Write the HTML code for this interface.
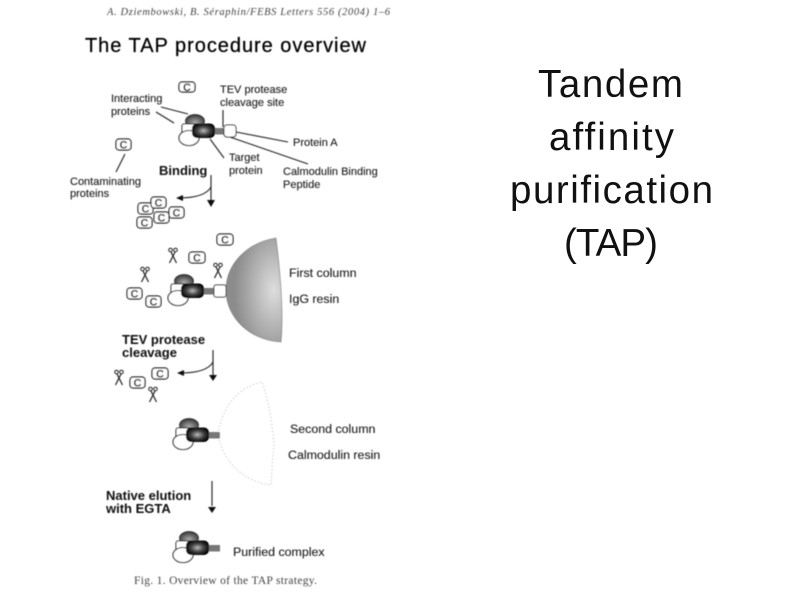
<!DOCTYPE html>
<html>
<head>
<meta charset="utf-8">
<style>
html,body{margin:0;padding:0;background:#fff;width:800px;height:600px;overflow:hidden}
svg{display:block}
.s{font-family:"Liberation Sans",sans-serif;font-size:11px;fill:#1c1c1c;stroke:#1c1c1c;stroke-width:.12}
.m{font-family:"Liberation Sans",sans-serif;font-size:12.4px;fill:#1c1c1c;stroke:#1c1c1c;stroke-width:.12}
.b{font-family:"Liberation Sans",sans-serif;font-size:13px;font-weight:bold;fill:#111}
.c{font-family:"Liberation Sans",sans-serif;font-size:11px;font-weight:bold;fill:#111;text-anchor:middle}
.r{font-family:"Liberation Sans",sans-serif;font-size:38.5px;fill:#111}
.l{stroke:#222;stroke-width:1.1;fill:none}
</style>
</head>
<body>
<svg width="800" height="600" viewBox="0 0 800 600" xmlns="http://www.w3.org/2000/svg">
<defs>
<radialGradient id="dk" cx="50%" cy="50%" r="55%">
<stop offset="0" stop-color="#bbb"/><stop offset=".5" stop-color="#444"/><stop offset="1" stop-color="#000"/>
</radialGradient>
<radialGradient id="top" cx="50%" cy="60%" r="60%">
<stop offset="0" stop-color="#aaa"/><stop offset="1" stop-color="#333"/>
</radialGradient>
<radialGradient id="hemi" cx="85%" cy="50%" r="70%">
<stop offset="0" stop-color="#dedede"/><stop offset=".55" stop-color="#b0b0b0"/><stop offset="1" stop-color="#8c8c8c"/>
</radialGradient>
<filter id="bl" x="-5%" y="-5%" width="110%" height="110%"><feGaussianBlur stdDeviation="0.45"/></filter>
<g id="cx">
<ellipse cx="-8" cy="-10" rx="9.500" ry="6.500" fill="url(#top)" stroke="#222" stroke-width=".8"/>
<rect x="-21" y="-7" width="14" height="13" rx="2" fill="#fff" stroke="#222" stroke-width="1.100"/>
<ellipse cx="-14" cy="7" rx="10" ry="7.500" fill="#fff" stroke="#111" stroke-width="1.100"/>
<rect x="-11" y="-7.500" width="23" height="14.500" rx="5" fill="url(#dk)"/>
<rect x="12" y="-3" width="11" height="6.500" fill="#777"/>
</g>
<g id="sc" fill="none" stroke="#222" stroke-width="1">
<circle cx="-2.500" cy="-6" r="1.800"/><circle cx="2.500" cy="-6" r="1.800"/>
<path d="M-2 -4 L3.500 7 M2 -4 L-3.500 7" stroke-width="1.200"/>
</g>
</defs>

<g filter="url(#bl)">
<text x="107" y="15" font-family="Liberation Serif" font-style="italic" font-size="10.500" fill="#444" textLength="283" lengthAdjust="spacing">A. Dziembowski, B. Séraphin/FEBS Letters 556 (2004) 1–6</text>
<text x="85" y="52" font-family="Liberation Sans" font-size="20" fill="#000" stroke="#000" stroke-width=".25" textLength="281" lengthAdjust="spacing">The TAP procedure overview</text>

<text class="s" x="111" y="102">Interacting</text>
<text class="s" x="111" y="115">proteins</text>
<text class="s" x="220" y="93">TEV protease</text>
<text class="s" x="220" y="106">cleavage site</text>
<text class="s" x="293" y="146">Protein A</text>
<text class="s" x="229" y="161">Target</text>
<text class="s" x="229" y="174">protein</text>
<text class="s" x="283" y="175">Calmodulin Binding</text>
<text class="s" x="283" y="188">Peptide</text>
<text class="s" x="70" y="185">Contaminating</text>
<text class="s" x="70" y="197">proteins</text>
<text class="b" x="159" y="175">Binding</text>

<path class="l" d="M161 107L188 114M156 112L174 123M223 110V127M236 132L288 142M224 135L308 164M210 139L224 158M125 154L116 172"/>

<use href="#cx" x="203" y="131"/>
<rect x="224" y="125" width="12" height="12" rx="3" fill="#fff" stroke="#222"/>

<g fill="#fff" stroke="#111" stroke-width="1.200">
<rect x="179" y="82" width="16" height="10" rx="3"/>
<rect x="116" y="139" width="15" height="11" rx="3"/>
<rect x="138" y="203" width="15" height="11" rx="3"/>
<rect x="137" y="217" width="15" height="11" rx="3"/>
<rect x="151" y="197" width="15" height="11" rx="3"/>
<rect x="154" y="212" width="15" height="11" rx="3"/>
<rect x="169" y="207" width="15" height="11" rx="3"/>
<rect x="217" y="234" width="16" height="11" rx="3"/>
<rect x="189" y="252" width="16" height="11" rx="3"/>
<rect x="127" y="288" width="15" height="11" rx="3"/>
<rect x="146" y="296" width="15" height="11" rx="3"/>
<rect x="152" y="368" width="16" height="11" rx="3"/>
<rect x="130" y="377" width="15" height="11" rx="3"/>
</g>
<g>
<text class="c" x="187" y="91">C</text>
<text class="c" x="123.500" y="148.500">C</text>
<text class="c" x="145.500" y="212.500">C</text>
<text class="c" x="158.500" y="206.500">C</text>
<text class="c" x="176.500" y="216.500">C</text>
<text class="c" x="161.500" y="221.500">C</text>
<text class="c" x="144.500" y="226.500">C</text>
<text class="c" x="225" y="243.500">C</text>
<text class="c" x="197" y="261.500">C</text>
<text class="c" x="134.500" y="297.500">C</text>
<text class="c" x="153.500" y="305.500">C</text>
<text class="c" x="160" y="377.500">C</text>
<text class="c" x="137.500" y="386.500">C</text>
</g>

<path class="l" d="M211 175V202M211 187Q205 198 178 198"/>
<path d="M207 200H215L211 207Z M176 198L183 195V201Z" fill="#111"/>

<path d="M276 238C245 243 226 266 226 290C226 318 250 340 281 342C284 310 280 270 276 238Z" fill="url(#hemi)" stroke="#777" stroke-width=".6"/>
<use href="#cx" x="192" y="291"/>
<rect x="214" y="285" width="12" height="12" rx="2" fill="#fff" stroke="#222"/>
<text class="m" x="289" y="277">First column</text>
<text class="m" x="289" y="303">IgG resin</text>
<use href="#sc" x="173" y="256"/>
<use href="#sc" x="145" y="275"/>
<use href="#sc" x="218" y="271"/>

<text class="b" x="122" y="344">TEV protease</text>
<text class="b" x="122" y="357">cleavage</text>
<path class="l" d="M213 350V376M213 362Q207 373 180 373"/>
<path d="M209 375H217L213 381Z M177 373L184 370V376Z" fill="#111"/>
<use href="#sc" x="119" y="378"/>
<use href="#sc" x="153" y="395"/>

<path d="M218 434C222 410 235 388 262 382C270 405 272 425 274 445C272 460 272 472 271 485C245 482 222 462 218 434Z" fill="#fff" stroke="#ccc" stroke-width="1" stroke-dasharray="1.500 2"/>
<use href="#cx" x="197" y="435"/>
<text class="m" x="290" y="433">Second column</text>
<text class="m" x="288" y="459">Calmodulin resin</text>

<text class="b" x="106" y="500">Native elution</text>
<text class="b" x="106" y="513">with EGTA</text>
<path class="l" d="M212 481V506"/>
<path d="M208 507H216L212 513Z" fill="#111"/>

<use href="#cx" x="197" y="548"/>
<text class="m" x="233" y="556">Purified complex</text>

<text x="134" y="584" font-family="Liberation Serif" font-size="11.500" fill="#444" textLength="183" lengthAdjust="spacing">Fig. 1. Overview of the TAP strategy.</text>
</g>

<text class="r" x="538" y="97" textLength="145" lengthAdjust="spacing">Tandem</text>
<text class="r" x="549" y="150" textLength="125" lengthAdjust="spacing">affinity</text>
<text class="r" x="510" y="203" textLength="203" lengthAdjust="spacing">purification</text>
<text class="r" x="564" y="256" textLength="94" lengthAdjust="spacing">(TAP)</text>
</svg>
</body>
</html>
